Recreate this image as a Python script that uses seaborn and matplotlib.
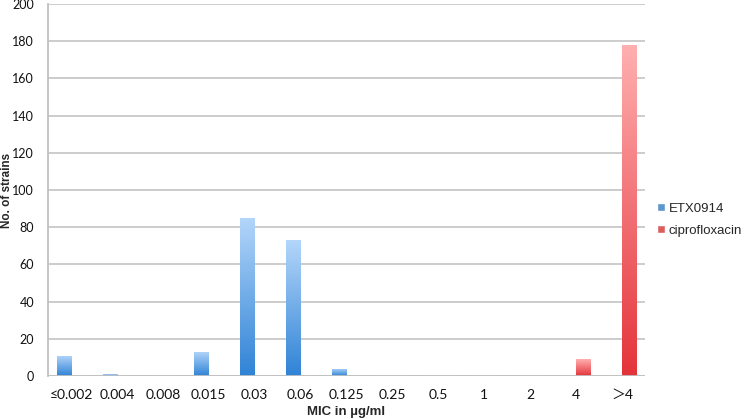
import matplotlib
matplotlib.use("Agg")
import matplotlib.pyplot as plt
import matplotlib.colors as mcolors
import seaborn as sns
import numpy as np
import pandas as pd

categories = ["≤0.002", "0.004", "0.008", "0.015", "0.03", "0.06", "0.125",
              "0.25", "0.5", "1", "2", "4", "＞4"]
etx0914 = [11, 1, 0, 13, 85, 73, 4, 0, 0, 0, 0, 0, 0]
ciprofloxacin = [0, 0, 0, 0, 0, 0, 0, 0, 0, 0, 0, 9, 178]
series_names = ["ETX0914", "ciprofloxacin"]

df = pd.DataFrame({
    "MIC": categories * 2,
    "count": etx0914 + ciprofloxacin,
    "drug": [series_names[0]] * len(categories) + [series_names[1]] * len(categories),
})

sns.set_style("white")
plt.rcParams["font.family"] = ["Lato", "Noto Sans CJK SC", "DejaVu Sans"]

# light top, dark bottom, like the Excel fill
gradients = {
    series_names[0]: ("#b4d6fa", "#2f83d6"),
    series_names[1]: ("#ffb0b0", "#e4333a"),
}
solid = {"ETX0914": "#4a96e0", "ciprofloxacin": "#ee4a4a"}

fig = plt.figure(figsize=(7.5, 4.19), dpi=100)
ax = fig.add_axes([0.064, 0.1026, 0.796, 0.888])

sns.barplot(data=df, x="MIC", y="count", hue="drug", palette=solid,
            width=0.62, dodge=True, ax=ax, legend=True, zorder=3)

# swap flat fills for vertical gradients
n = len(categories)
for i, patch in enumerate(ax.patches[:2 * n]):
    name = series_names[i // n]
    h = patch.get_height()
    if h <= 0:
        continue
    top, bottom = gradients[name]
    cmap = mcolors.LinearSegmentedColormap.from_list("g", [bottom, top])
    x0 = patch.get_x()
    w = patch.get_width()
    grad = np.linspace(0, 1, 256).reshape(-1, 1)
    im = ax.imshow(grad, cmap=cmap, origin="lower", aspect="auto",
                   extent=[x0, x0 + w, 0, h], zorder=3)
    im.set_clip_path(patch)
    patch.set_facecolor("none")
    patch.set_edgecolor("none")

ax.set_xlim(-0.5, n - 0.5)
ax.set_ylim(0, 200)
ax.set_yticks(range(0, 201, 20))
ax.yaxis.grid(True, color="#c8c8c8", linewidth=1.3, zorder=0)
ax.set_axisbelow(True)

for side in ["top", "right", "bottom"]:
    ax.spines[side].set_visible(False)
ax.spines["left"].set_color("#c0c0c0")
ax.spines["left"].set_linewidth(1.3)
ax.axhline(0, color="#c0c0c0", linewidth=1.3, zorder=4)

ax.set_xticks(np.arange(-0.5, n, 1), minor=True)
ax.tick_params(axis="x", which="major", length=0, pad=9, labelsize=10,
               labelcolor="#111111")
ax.tick_params(axis="x", which="minor", length=5, color="#c0c0c0", width=1.2)
ax.tick_params(axis="y", length=5, color="#c0c0c0", width=1.2, labelsize=9,
               labelcolor="#111111", pad=5)

ax.set_xlabel("MIC in µg/ml", fontsize=9.5, fontweight="bold",
              family="Liberation Sans", labelpad=4)
ax.set_ylabel("No. of strains", fontsize=8.5, fontweight="bold",
              family="Liberation Sans")
ax.yaxis.set_label_coords(-0.058, 0.5)

leg = ax.legend(loc="center left", bbox_to_anchor=(1.0, 0.42), frameon=False,
                prop={"family": "Liberation Sans", "size": 9.5},
                handlelength=0.6, handleheight=0.6,
                handletextpad=0.3, labelspacing=0.75)

plt.savefig("out.png", dpi=100)
